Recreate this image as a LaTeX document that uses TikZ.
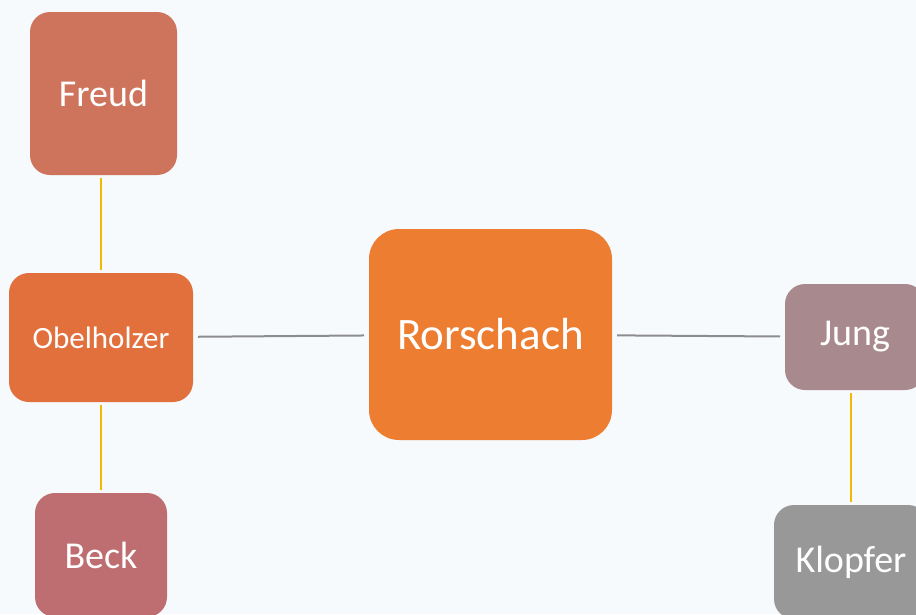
\documentclass[tikz,border=0pt]{standalone}
\usepackage{fontspec}
\setmainfont{Carlito}
\usetikzlibrary{positioning}

\definecolor{bgpaper}{RGB}{247,250,253}
\definecolor{rorsorange}{RGB}{237,125,49}
\definecolor{obelorange}{RGB}{226,112,60}
\definecolor{freudbrick}{RGB}{206,115,92}
\definecolor{beckrose}{RGB}{190,110,112}
\definecolor{jungmauve}{RGB}{168,137,142}
\definecolor{klopfergrey}{RGB}{152,152,152}
\definecolor{linkgold}{RGB}{245,184,0}
\definecolor{linkgrey}{RGB}{140,140,145}

\begin{document}
\begin{tikzpicture}[
  person/.style={rectangle, rounded corners=20pt, inner sep=0pt, outer sep=0pt,
    text=white, align=center, font=\fontsize{38}{40}\selectfont},
  centre/.style={person, rounded corners=30pt, font=\fontsize{45}{48}\selectfont},
  tie/.style={linkgold, line width=2pt, shorten <=3pt, shorten >=3pt},
  peer/.style={linkgrey, line width=2pt, shorten <=5pt, shorten >=5pt}]

\fill[bgpaper] (0,0) rectangle (916pt,-614pt);
\clip (0,0) rectangle (916pt,-614pt);
\useasboundingbox (0,0) rectangle (916pt,-614pt);

\node[centre, fill=rorsorange, minimum width=243pt, minimum height=211pt]
  (rors) at (490.5pt,-334.5pt) {Rorschach};
\node[person, fill=obelorange, minimum width=184pt, minimum height=129pt,
  font=\fontsize{31}{33}\selectfont, left=176pt of rors, yshift=-3pt] (obel) {Obelholzer};
\node[person, fill=freudbrick, minimum width=147pt, minimum height=163pt,
  above=98pt of obel, xshift=2.5pt] (freud) {Freud};
\node[person, fill=beckrose, minimum width=132pt, minimum height=124pt,
  below=91pt of obel] (beck) {Beck};
\node[person, fill=jungmauve, minimum width=140pt, minimum height=106pt,
  right=173pt of rors, yshift=-2.5pt] (jung) {Jung};
\node[person, fill=klopfergrey, minimum width=154pt, minimum height=114pt,
  below=115pt of jung, xshift=-4pt] (klopfer) {Klopfer};

\draw[tie] (freud.south -| obel.north) -- (obel.north);
\draw[tie] (obel) -- (beck);
\draw[tie] (jung.south -| klopfer.north) -- (klopfer.north);
\draw[peer] (obel) -- (rors);
\draw[peer] (rors) -- (jung);
\end{tikzpicture}
\end{document}
